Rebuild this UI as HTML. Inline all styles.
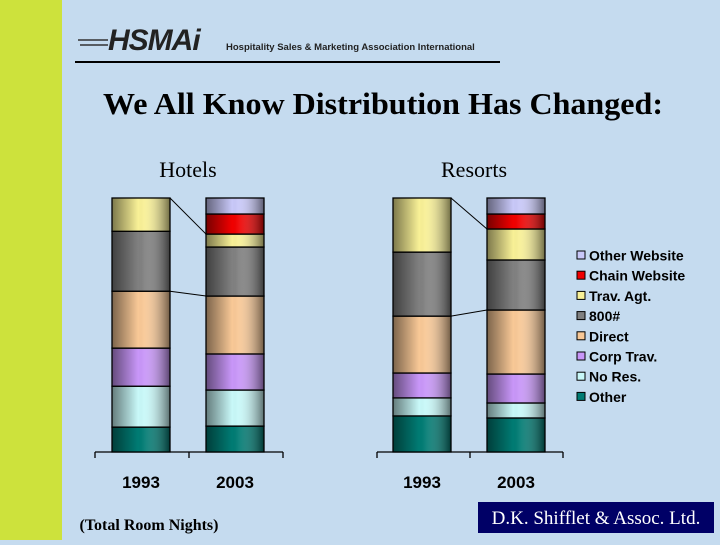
<!DOCTYPE html>
<html><head><meta charset="utf-8"><style>
body{margin:0;width:720px;height:540px;overflow:hidden;background:#c5dbef;font-family:"Liberation Sans",sans-serif}
</style></head><body>
<svg width="720" height="540" xmlns="http://www.w3.org/2000/svg">
<defs>
<linearGradient id="shade" x1="0" x2="1" y1="0" y2="0">
<stop offset="0" stop-color="#000" stop-opacity="0.5"/>
<stop offset="0.45" stop-color="#000" stop-opacity="0"/>
<stop offset="0.55" stop-color="#fff" stop-opacity="0.05"/>
<stop offset="1" stop-color="#000" stop-opacity="0.55"/>
</linearGradient>
</defs>
<rect x="0" y="0" width="720" height="540" fill="#c5dbef"/>
<rect x="0" y="0" width="62" height="540" fill="#cde23c"/>
<g>
<text x="108" y="50" font-size="30" font-weight="bold" font-style="italic" fill="#222" font-family="Liberation Sans,sans-serif" letter-spacing="-1">HSMAi</text>
<line x1="78" y1="40" x2="108" y2="40" stroke="#333" stroke-width="1.5"/>
<line x1="80" y1="45" x2="108" y2="45" stroke="#333" stroke-width="1.5"/>
<text x="226" y="50" font-size="9.5" font-weight="bold" fill="#222">Hospitality Sales &amp; Marketing Association International</text>
</g>
<line x1="75" y1="62" x2="500" y2="62" stroke="#000" stroke-width="2"/>
<text x="383" y="114" text-anchor="middle" font-family="Liberation Serif,serif" font-weight="bold" font-size="31" fill="#000" textLength="560" lengthAdjust="spacingAndGlyphs">We All Know Distribution Has Changed:</text>
<text x="188" y="177" text-anchor="middle" font-family="Liberation Serif,serif" font-size="22">Hotels</text>
<text x="474" y="177" text-anchor="middle" font-family="Liberation Serif,serif" font-size="22">Resorts</text>
<g id="charts"></g>
<g id="legend"></g>
<text x="149" y="530" text-anchor="middle" font-family="Liberation Serif,serif" font-weight="bold" font-size="16">(Total Room Nights)</text>
<rect x="478" y="502" width="236" height="31" fill="#000066"/>
<text x="596" y="524" text-anchor="middle" font-family="Liberation Serif,serif" font-size="19" fill="#fff">D.K. Shifflet &amp; Assoc. Ltd.</text>
</svg>
<script>
const series = ["Other","No Res.","Corp Trav.","Direct","800#","Trav. Agt.","Chain Website","Other Website"];
const colors = ["#007b73","#c8f8f8","#c896f8","#f8c896","#808080","#f8f096","#f00000","#c8c8f8"];
const categories = ["1993","2003"];
const hotels1993 = [9.8,16.1,15.0,22.4,23.6,13.1,0,0];
const hotels2003 = [10.2,14.2,14.2,22.8,19.3,5.1,7.9,6.3];
const resorts1993 = [14.2,7.1,9.8,22.4,25.2,21.3,0,0];
const resorts2003 = [13.4,5.9,11.4,25.2,19.7,12.2,5.9,6.3];
const NS="http://www.w3.org/2000/svg";
const g=document.getElementById('charts');
const baseY=452, plotH=254;
function yScale(v){return v/100*plotH;}
function mk(t,a){const e=document.createElementNS(NS,t);for(const k in a)e.setAttribute(k,a[k]);return e;}
function tops(vals){let c=0;return vals.map(v=>{c+=v;return baseY-yScale(c);});}
function drawBar(vals,x,w,name){
  const grp=mk('g',{});
  
  
  let c=0;
  vals.forEach((v,i)=>{ if(v<=0)return;
    const y0=baseY-yScale(c), y1=baseY-yScale(c+v); c+=v;
    const r=mk('rect',{x:x,y:y1,width:w,height:y0-y1,fill:colors[i]});
    
    
    grp.appendChild(r);
    grp.appendChild(mk('rect',{x:x,y:y1,width:w,height:y0-y1,fill:'url(#shade)',stroke:'#000','stroke-width':1.3}));
  });
  g.appendChild(grp);
}
function drawChart(a,b,x0,x1,xa,xb,name){
  const w=58;
  const ax=mk('g',{});
  
  
  ax.appendChild(mk('line',{x1:x0,y1:baseY,x2:x1,y2:baseY,stroke:'#000','stroke-width':1.3}));
  [x0,(x0+x1)/2,x1].forEach(t=>ax.appendChild(mk('line',{x1:t,y1:baseY,x2:t,y2:baseY+6,stroke:'#000','stroke-width':1.3})));
  g.appendChild(ax);
  drawBar(a,xa,w,name+'-bar-1993');
  drawBar(b,xb,w,name+'-bar-2003');
  const ta=tops(a), tb=tops(b);
  [[5,5],[3,3]].forEach(([i,j],k)=>{
    const ya=k==0?ta[ta.length-1]:ta[i], yb=tb[j];
    const l=mk('line',{x1:xa+w,y1:ya,x2:xb,y2:yb,stroke:'#000','stroke-width':1});
    
    
    g.appendChild(l);
  });
  categories.forEach((c,i)=>{
    const t=mk('text',{x:i?xb+w/2:xa+w/2,y:488,'text-anchor':'middle','font-size':17,'font-weight':'bold'});
    t.textContent=c;
    
    
    g.appendChild(t);
  });
}
drawChart(hotels1993,hotels2003,95,283,112,206,'hotels');
drawChart(resorts1993,resorts2003,377,563,393,487,'resorts');
const lg=document.getElementById('legend');
for(let k=0;k<series.length;k++){
  const i=series.length-1-k, y=256+k*20.2;
  const e=mk('g',{});
  
  
  e.appendChild(mk('rect',{x:577,y:y-5,width:8,height:8,fill:colors[i],stroke:'#000','stroke-width':1}));
  const t=mk('text',{x:589,y:y+4.5,'font-size':14,'font-weight':'bold'});
  t.textContent=series[i];
  e.appendChild(t);
  lg.appendChild(e);
}
</script>
</body></html>
